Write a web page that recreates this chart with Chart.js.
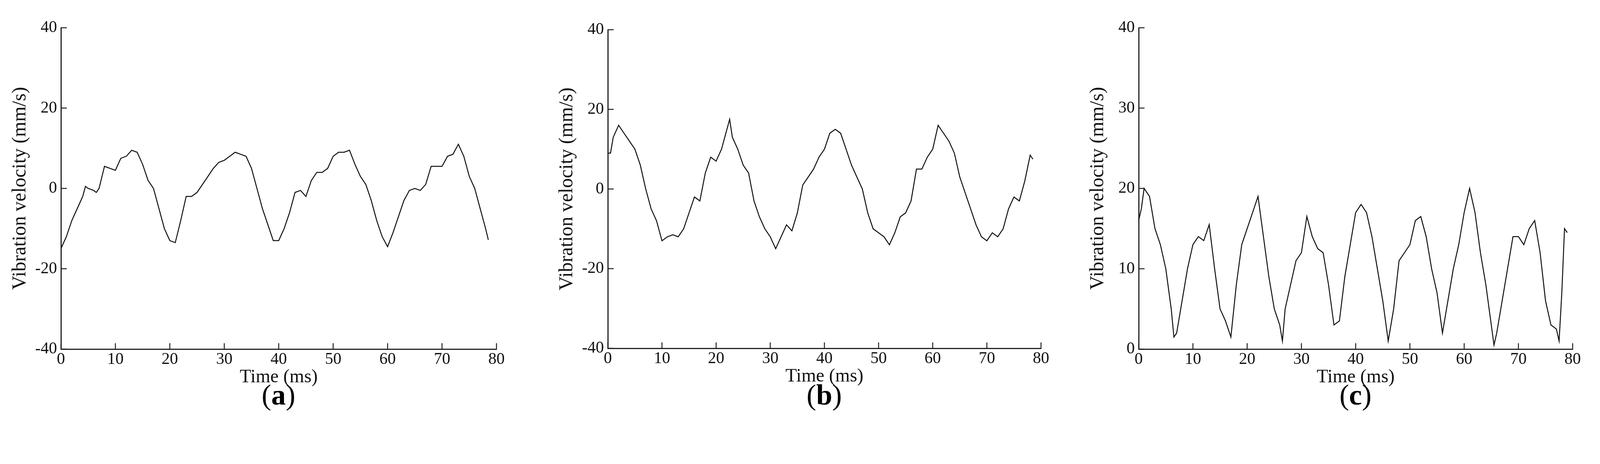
<!DOCTYPE html>
<html>
<head>
<meta charset="utf-8">
<script src="https://cdn.jsdelivr.net/npm/chart.js@4/dist/chart.umd.min.js"></script>
<style>
  body { margin: 0; background: #fff; width: 4297px; height: 1187px; position: relative; overflow: hidden; }
  .wrap { position: absolute; top: 0; height: 1187px; }
  .cap { position: absolute; top: 968px; font-family: "Liberation Serif", serif; font-size: 74px; color: #000; transform: translateX(-50%); }
</style>
</head>
<body>
<div class="wrap" id="wa"><canvas id="ca"></canvas></div>
<div class="wrap" id="wb"><canvas id="cb"></canvas></div>
<div class="wrap" id="wc"><canvas id="cc"></canvas></div>
<div class="cap" style="left:713px">(<b>a</b>)</div>
<div class="cap" style="left:2110px">(<b>b</b>)</div>
<div class="cap" style="left:3470px">(<b>c</b>)</div>
<script>
// time (ms)
const timeA = [0,1,2,3,4,4.5,5,6,6.5,7,8,9,10,11,12,13,14,15,16,17,18,19,20,21,22,23,24,25,26,27,28,29,30,31,32,33,34,35,36,37,38,39,40,41,42,43,44,45,46,47,48,49,50,51,52,53,54,55,56,57,58,59,60,61,62,63,64,65,66,67,68,69,70,71,72,73,74,75,76,77,78,78.5];
const velA = [-15,-12,-8,-5,-2,0.5,0,-0.5,-1,0,5.5,5,4.5,7.5,8,9.5,9,6,2,0,-5,-10,-13,-13.5,-8,-2,-2,-1,1,3,5,6.5,7,8,9,8.5,8,5,0,-5,-9,-13,-13,-10,-6,-1,-0.5,-2,2,4,4,5,8,9,9,9.5,6,3,1,-3,-8,-12,-14.5,-11,-7,-3,-0.5,0,-0.5,1,5.5,5.5,5.5,8,8.5,11,8,3,0,-5,-10,-12.8];

const timeB = [0,0.5,1,2,3,4,5,6,7,8,9,10,11,12,13,14,15,16,17,18,19,20,21,22,22.5,23,24,25,26,27,28,29,30,31,32,33,34,35,36,37,38,39,40,41,42,43,44,45,46,47,48,49,50,51,52,53,54,55,56,57,58,59,60,61,62,63,64,65,66,67,68,69,70,71,72,73,74,75,76,77,78,78.5];
const velB = [9,9,13,16,14,12,10,6,0,-5,-8,-13,-12,-11.5,-12,-10,-6,-2,-3,4,8,7,10,15,17.5,13,10,6,4,-3,-7,-10,-12,-15,-12,-9,-10.5,-6,1,3,5,8,10,14,15,14,10,6,3,0,-6,-10,-11,-12,-14,-11,-7,-6,-3,5,5,8,10,16,14,12,9,3,-1,-5,-9,-12,-13,-11,-12,-10,-5,-2,-3,2,8.5,7.5];

const timeC = [0,0.5,1,1.5,2,3,4,5,6,6.5,7,8,9,10,11,12,13,14,15,16,17,18,19,20,21,22,23,24,25,26,26.5,27,28,29,30,31,32,33,34,35,36,37,38,39,40,41,42,43,44,45,46,47,48,49,50,51,52,53,54,55,56,57,58,59,60,61,62,63,64,65,65.5,66,67,68,69,70,71,72,73,74,75,76,77,77.5,78,78.5,79];
const velC = [16,17.5,20,19.5,19,15,13,10,5,1.5,2,6,10,13,14,13.5,15.5,10,5,3.5,1.5,8,13,15,17,19,14,9,5,3,1,5,8,11,12,16.5,14,12.5,12,8,3,3.5,9,13,17,18,17,14,10,6,1,5,11,12,13,16,16.5,14,10,7,2,6,10,13,17,20,17,12,8,3,0.5,2,6,10,14,14,13,15,16,12,6,3,2.5,1,7,15,14.5];

const xTicks = [0,10,20,30,40,50,60,70,80];
const yTicksAB = [-40,-20,0,20,40];
const yTicksC = [0,10,20,30,40];

const serif = '"Liberation Serif", "DejaVu Serif", serif';

// ticks drawn inward, like the original figure
const innerTicks = {
  id: 'innerTicks',
  afterDraw(chart) {
    const c = chart.ctx, x = chart.scales.x, y = chart.scales.y;
    c.save();
    c.strokeStyle = '#222';
    c.lineWidth = 2.5;
    c.beginPath();
    x.ticks.forEach(t => {
      const px = x.getPixelForValue(t.value);
      c.moveTo(px, y.bottom); c.lineTo(px, y.bottom - 15);
    });
    y.ticks.forEach(t => {
      const py = y.getPixelForValue(t.value);
      c.moveTo(x.left, py); c.lineTo(x.left + 15, py);
    });
    c.stroke();
    c.restore();
  }
};

function makeChart(id, wrapId, x0, x80, yTop, yBot, times, vals, yMin, yMax, yTicks) {
  const leftW = 156, rightW = 60, xH = 100;
  const wrap = document.getElementById(wrapId);
  wrap.style.left = (x0 - leftW) + 'px';
  wrap.style.width = (x80 - x0 + leftW + rightW) + 'px';
  return new Chart(document.getElementById(id), {
    type: 'line',
    data: {
      datasets: [{
        data: times.map((t, i) => ({ x: t, y: vals[i] })),
        borderColor: '#111',
        borderWidth: 2.5,
        pointRadius: 0,
        tension: 0
      }]
    },
    options: {
      responsive: true,
      maintainAspectRatio: false,
      animation: false,
      layout: { padding: { top: yTop, right: rightW, left: 0, bottom: 1187 - yBot - xH } },
      plugins: { legend: { display: false }, tooltip: { enabled: false } },
      scales: {
        x: {
          type: 'linear', min: 0, max: 80,
          afterFit: s => { s.height = xH; },
          afterBuildTicks: s => { s.ticks = xTicks.map(v => ({ value: v })); },
          grid: { display: false, drawTicks: false },
          border: { color: '#222', width: 3 },
          ticks: { color: '#111', font: { family: serif, size: 42, lineHeight: 1 }, padding: 6, maxRotation: 0 },
          title: { display: true, text: 'Time (ms)', color: '#111', font: { family: serif, size: 48, lineHeight: 1 }, padding: { top: 0 } }
        },
        y: {
          min: yMin, max: yMax,
          afterFit: s => { s.width = leftW; },
          afterBuildTicks: s => { s.ticks = yTicks.map(v => ({ value: v })); },
          grid: { display: false, drawTicks: false },
          border: { color: '#222', width: 3 },
          ticks: { color: '#111', font: { family: serif, size: 42 }, padding: 10 },
          title: { display: true, text: 'Vibration velocity (mm/s)', color: '#111', font: { family: serif, size: 50 }, padding: { top: 22, bottom: 0 } }
        }
      }
    },
    plugins: [innerTicks]
  });
}

makeChart('ca', 'wa', 156, 1271, 71, 893, timeA, velA, -40, 40, yTicksAB);
makeChart('cb', 'wb', 1556, 2665, 76, 891, timeB, velB, -40, 40, yTicksAB);
makeChart('cc', 'wc', 2915, 4026, 71, 893, timeC, velC, 0, 40, yTicksC);
</script>
</body>
</html>
